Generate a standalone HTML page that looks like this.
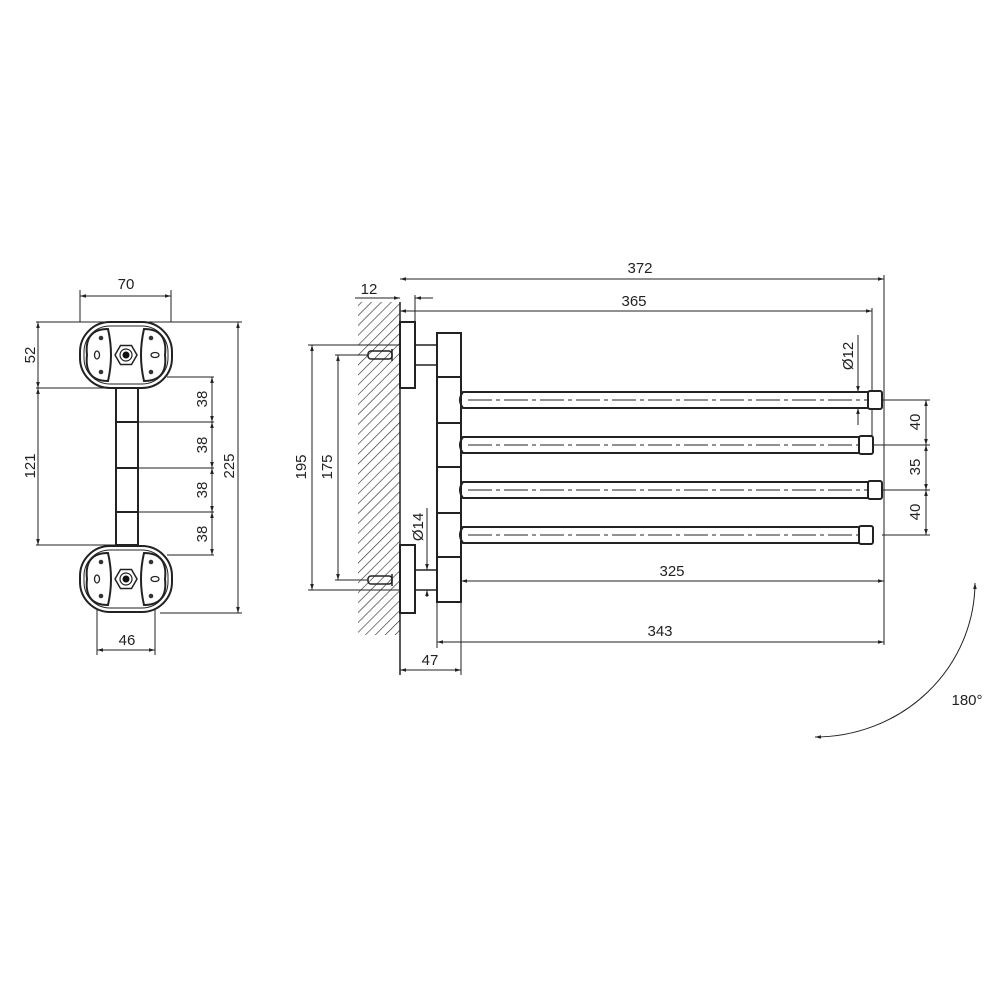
<!DOCTYPE html>
<html><head><style>body{margin:0;background:#fff}svg{display:block}text{font-family:"Liberation Sans",sans-serif;font-size:15px;fill:#222}</style></head><body>
<svg width="1000" height="1000" viewBox="0 0 1000 1000" xmlns="http://www.w3.org/2000/svg">
<defs>
<marker id="a" viewBox="0 0 10 10" refX="10" refY="5" markerWidth="8" markerHeight="6" orient="auto-start-reverse"><path d="M0,2 L10,5 L0,8z" fill="#222"/></marker>
<pattern id="h" width="7" height="7" patternUnits="userSpaceOnUse" patternTransform="rotate(45)"><line x1="0" y1="0" x2="0" y2="7" stroke="#333" stroke-width="1.3"/></pattern>
<g id="plate">
<rect x="-46" y="-33" width="92" height="66" rx="30" fill="#fff" stroke="#222" stroke-width="2"/>
<rect x="-42" y="-29" width="84" height="58" rx="26" fill="none" stroke="#222" stroke-width="1"/>
<path d="M-18,-26 Q-42,-26 -39,0 Q-42,26 -18,26 Q-12,0 -18,-26z" fill="none" stroke="#222" stroke-width="2"/>
<path d="M18,-26 Q42,-26 39,0 Q42,26 18,26 Q12,0 18,-26z" fill="none" stroke="#222" stroke-width="2"/>
<polygon points="-11,0 -5.5,-9.5 5.5,-9.5 11,0 5.5,9.5 -5.5,9.5" fill="#fff" stroke="#222" stroke-width="1.5"/>
<circle r="6" fill="none" stroke="#222" stroke-width="1.2"/><circle r="3.5" fill="#111"/>
<ellipse cx="-29" cy="0" rx="2.5" ry="4" fill="none" stroke="#222" stroke-width="1.3"/>
<ellipse cx="29" cy="0" rx="4" ry="2.5" fill="none" stroke="#222" stroke-width="1.3"/>
<circle cx="-25" cy="-17" r="2.3" fill="#333"/><circle cx="-25" cy="17" r="2.3" fill="#333"/>
<circle cx="25" cy="-17" r="2.3" fill="#333"/><circle cx="25" cy="17" r="2.3" fill="#333"/>
</g>
</defs>
<g stroke="#222" fill="none" stroke-width="1">
<rect x="116" y="388" width="22" height="157" stroke-width="2"/>
<line x1="116" y1="422" x2="138" y2="422" stroke-width="2"/><line x1="116" y1="468" x2="138" y2="468" stroke-width="2"/><line x1="116" y1="512" x2="138" y2="512" stroke-width="2"/>
<line x1="80" y1="290" x2="80" y2="322"/><line x1="171" y1="290" x2="171" y2="322"/>
<line x1="80" y1="296" x2="171" y2="296" marker-start="url(#a)" marker-end="url(#a)"/>
<line x1="36" y1="322" x2="242" y2="322"/><line x1="36" y1="388" x2="116" y2="388"/><line x1="36" y1="545" x2="116" y2="545"/>
<line x1="38" y1="322" x2="38" y2="388" marker-start="url(#a)" marker-end="url(#a)"/>
<line x1="38" y1="388" x2="38" y2="545" marker-start="url(#a)" marker-end="url(#a)"/>
<line x1="167" y1="377" x2="214" y2="377"/><line x1="138" y1="422" x2="214" y2="422"/><line x1="138" y1="468" x2="214" y2="468"/><line x1="138" y1="512" x2="214" y2="512"/><line x1="167" y1="555" x2="214" y2="555"/>
<line x1="212" y1="377" x2="212" y2="422" marker-start="url(#a)" marker-end="url(#a)"/>
<line x1="212" y1="422" x2="212" y2="468" marker-start="url(#a)" marker-end="url(#a)"/>
<line x1="212" y1="468" x2="212" y2="512" marker-start="url(#a)" marker-end="url(#a)"/>
<line x1="212" y1="512" x2="212" y2="555" marker-start="url(#a)" marker-end="url(#a)"/>
<line x1="160" y1="613" x2="242" y2="613"/>
<line x1="238" y1="322" x2="238" y2="613" marker-start="url(#a)" marker-end="url(#a)"/>
<line x1="97" y1="580" x2="97" y2="655"/><line x1="155" y1="580" x2="155" y2="655"/>
<line x1="97" y1="650" x2="155" y2="650" marker-start="url(#a)" marker-end="url(#a)"/>
<rect x="358" y="302" width="42" height="333" fill="url(#h)" stroke="none"/>
<line x1="400" y1="302" x2="400" y2="675" stroke-width="1.5"/>
<line x1="884" y1="275" x2="884" y2="645"/>
<line x1="400" y1="279" x2="884" y2="279" marker-start="url(#a)" marker-end="url(#a)"/>
<line x1="872" y1="308" x2="872" y2="440"/>
<line x1="400" y1="311" x2="872" y2="311" marker-start="url(#a)" marker-end="url(#a)"/>
<line x1="415" y1="295" x2="415" y2="322"/>
<line x1="355" y1="298" x2="400" y2="298" marker-end="url(#a)"/><line x1="433" y1="298" x2="415" y2="298" marker-end="url(#a)"/>
<rect x="400" y="322" width="15" height="66" stroke-width="2" fill="#fff"/>
<rect x="400" y="545" width="15" height="68" stroke-width="2" fill="#fff"/>
<rect x="415" y="345" width="22" height="20" stroke-width="1.5"/>
<rect x="415" y="570" width="22" height="20" stroke-width="1.5"/>
<rect x="437" y="333" width="24" height="269" stroke-width="2" fill="#fff"/>
<line x1="437" y1="377" x2="461" y2="377" stroke-width="2"/><line x1="437" y1="423" x2="461" y2="423" stroke-width="2"/><line x1="437" y1="467" x2="461" y2="467" stroke-width="2"/><line x1="437" y1="513" x2="461" y2="513" stroke-width="2"/><line x1="437" y1="557" x2="461" y2="557" stroke-width="2"/>
<g stroke-width="2">
<path d="M868,392 H463 Q457,400 463,408 H868"/><rect x="868" y="391" width="14" height="18" rx="2" fill="#fff"/>
<path d="M859,437 H463 Q457,445 463,453 H859"/><rect x="859" y="436" width="14" height="18" rx="2" fill="#fff"/>
<path d="M868,482 H463 Q457,490 463,498 H868"/><rect x="868" y="481" width="14" height="18" rx="2" fill="#fff"/>
<path d="M859,527 H463 Q457,535 463,543 H859"/><rect x="859" y="526" width="14" height="18" rx="2" fill="#fff"/>
</g>
<g stroke-dasharray="24,4,4,4">
<line x1="468" y1="400" x2="868" y2="400"/><line x1="468" y1="445" x2="859" y2="445"/><line x1="468" y1="490" x2="868" y2="490"/><line x1="468" y1="535" x2="859" y2="535"/>
</g>
<g stroke-width="1.5"><rect x="368" y="351" width="24" height="8" rx="3"/><rect x="368" y="576" width="24" height="8" rx="3"/>
<line x1="392" y1="349" x2="392" y2="361"/><line x1="392" y1="574" x2="392" y2="586"/></g>
<line x1="308" y1="345" x2="400" y2="345"/><line x1="308" y1="590" x2="400" y2="590"/>
<line x1="312" y1="345" x2="312" y2="590" marker-start="url(#a)" marker-end="url(#a)"/>
<line x1="335" y1="355" x2="368" y2="355"/><line x1="335" y1="580" x2="368" y2="580"/>
<line x1="338" y1="355" x2="338" y2="580" marker-start="url(#a)" marker-end="url(#a)"/>
<line x1="427" y1="508" x2="427" y2="570" marker-end="url(#a)"/><line x1="427" y1="597" x2="427" y2="590" marker-end="url(#a)"/>
<line x1="858" y1="335" x2="858" y2="392" marker-end="url(#a)"/><line x1="858" y1="425" x2="858" y2="408" marker-end="url(#a)"/>
<line x1="882" y1="400" x2="930" y2="400"/><line x1="873" y1="445" x2="930" y2="445"/><line x1="882" y1="490" x2="930" y2="490"/><line x1="882" y1="535" x2="930" y2="535"/>
<line x1="926" y1="400" x2="926" y2="445" marker-start="url(#a)" marker-end="url(#a)"/>
<line x1="926" y1="445" x2="926" y2="490" marker-start="url(#a)" marker-end="url(#a)"/>
<line x1="926" y1="490" x2="926" y2="535" marker-start="url(#a)" marker-end="url(#a)"/>
<line x1="461" y1="581" x2="884" y2="581" marker-start="url(#a)" marker-end="url(#a)"/>
<line x1="437" y1="602" x2="437" y2="648"/>
<line x1="437" y1="642" x2="884" y2="642" marker-start="url(#a)" marker-end="url(#a)"/>
<line x1="461" y1="602" x2="461" y2="675"/>
<line x1="400" y1="670" x2="461" y2="670" marker-start="url(#a)" marker-end="url(#a)"/>
<path d="M975,583 A160,155 0 0 1 815,737" marker-start="url(#a)" marker-end="url(#a)"/>
</g>
<use href="#plate" x="126" y="355"/>
<use href="#plate" x="126" y="579"/>
<g>
<text x="126" y="289" text-anchor="middle">70</text>
<text transform="translate(35,355) rotate(-90)" text-anchor="middle">52</text>
<text transform="translate(35,466) rotate(-90)" text-anchor="middle">121</text>
<text transform="translate(207,399) rotate(-90)" text-anchor="middle">38</text>
<text transform="translate(207,445) rotate(-90)" text-anchor="middle">38</text>
<text transform="translate(207,490) rotate(-90)" text-anchor="middle">38</text>
<text transform="translate(207,534) rotate(-90)" text-anchor="middle">38</text>
<text transform="translate(234,466) rotate(-90)" text-anchor="middle">225</text>
<text x="127" y="645" text-anchor="middle">46</text>
<text x="640" y="273" text-anchor="middle">372</text>
<text x="634" y="306" text-anchor="middle">365</text>
<text x="369" y="294" text-anchor="middle">12</text>
<text transform="translate(306,467) rotate(-90)" text-anchor="middle">195</text>
<text transform="translate(332,467) rotate(-90)" text-anchor="middle">175</text>
<text transform="translate(423,527) rotate(-90)" text-anchor="middle">Ø14</text>
<text transform="translate(853,356) rotate(-90)" text-anchor="middle">Ø12</text>
<text transform="translate(920,422) rotate(-90)" text-anchor="middle">40</text>
<text transform="translate(920,467) rotate(-90)" text-anchor="middle">35</text>
<text transform="translate(920,512) rotate(-90)" text-anchor="middle">40</text>
<text x="672" y="576" text-anchor="middle">325</text>
<text x="660" y="636" text-anchor="middle">343</text>
<text x="430" y="665" text-anchor="middle">47</text>
<text x="967" y="705" text-anchor="middle">180°</text>
</g>
</svg>
</body></html>
